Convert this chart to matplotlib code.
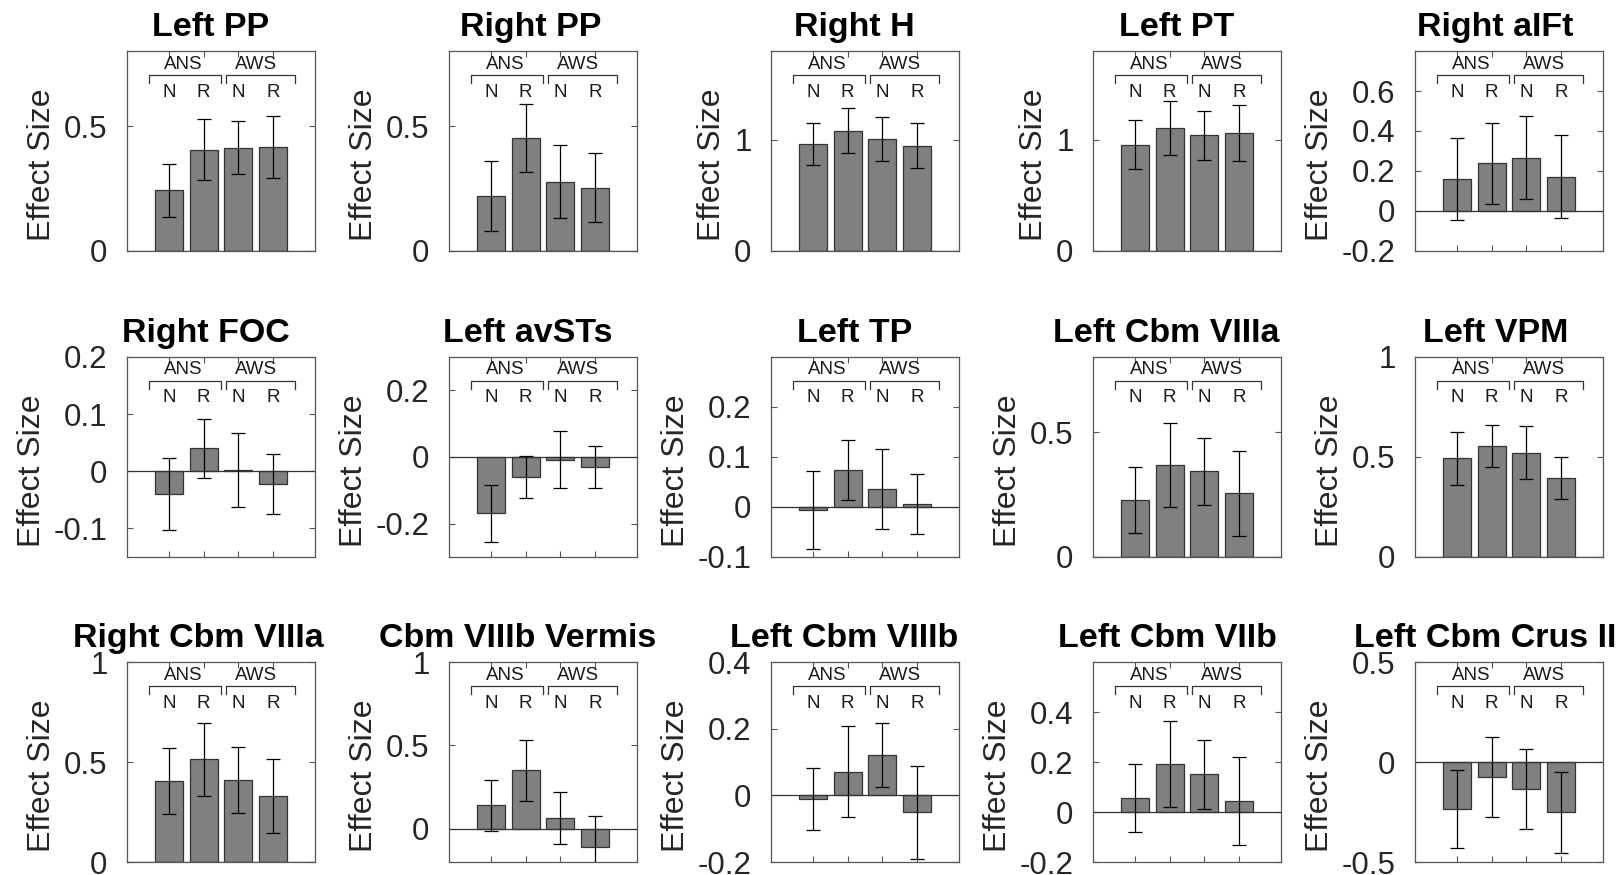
import matplotlib
matplotlib.use("Agg")
import matplotlib.pyplot as plt
import matplotlib.transforms as mtransforms

plt.rcParams['font.family'] = ['Liberation Sans', 'DejaVu Sans']
plt.rcParams['axes.unicode_minus'] = False

titles = ["Left PP", "Right PP", "Right H", "Left PT", "Right aIFt",
          "Right FOC", "Left avSTs", "Left TP", "Left Cbm VIIIa", "Left VPM",
          "Right Cbm VIIIa", "Cbm VIIIb Vermis", "Left Cbm VIIIb", "Left Cbm VIIb", "Left Cbm Crus II"]

bar_labels = ["N", "R", "N", "R"]
group_labels = ["ANS", "AWS"]

means_row1 = [[0.243, 0.406, 0.414, 0.417],
              [0.221, 0.451, 0.278, 0.254],
              [0.964, 1.084, 1.006, 0.949],
              [0.958, 1.108, 1.042, 1.060],
              [0.158, 0.238, 0.267, 0.172]]
errs_row1 = [[0.106, 0.122, 0.105, 0.124],
             [0.140, 0.136, 0.145, 0.138],
             [0.190, 0.200, 0.197, 0.200],
             [0.218, 0.245, 0.220, 0.250],
             [0.205, 0.204, 0.209, 0.207]]

means_row2 = [[-0.040, 0.040, 0.002, -0.0225],
              [-0.169, -0.059, -0.008, -0.031],
              [-0.006, 0.074, 0.037, 0.007],
              [0.229, 0.369, 0.343, 0.255],
              [0.493, 0.553, 0.522, 0.395]]
errs_row2 = [[0.063, 0.052, 0.065, 0.053],
             [0.085, 0.063, 0.085, 0.063],
             [0.078, 0.060, 0.080, 0.060],
             [0.131, 0.167, 0.134, 0.171],
             [0.132, 0.105, 0.133, 0.104]]

means_row3 = [[0.407, 0.513, 0.410, 0.332],
              [0.142, 0.350, 0.062, -0.108],
              [-0.012, 0.071, 0.121, -0.051],
              [0.056, 0.192, 0.151, 0.043],
              [-0.235, -0.073, -0.135, -0.252]]
errs_row3 = [[0.165, 0.183, 0.167, 0.185],
             [0.153, 0.181, 0.156, 0.186],
             [0.093, 0.137, 0.095, 0.139],
             [0.135, 0.172, 0.138, 0.176],
             [0.196, 0.200, 0.200, 0.203]]

ylims = [(0, 0.8), (0, 0.8), (0, 1.8), (0, 1.8), (-0.2, 0.8),
         (-0.15, 0.2), (-0.3, 0.3), (-0.1, 0.3), (0, 0.8), (0, 1.0),
         (0, 1.0), (-0.2, 1.0), (-0.2, 0.4), (-0.2, 0.6), (-0.5, 0.5)]
yticks = [[0, 0.5], [0, 0.5], [0, 1], [0, 1], [-0.2, 0, 0.2, 0.4, 0.6],
          [-0.1, 0, 0.1, 0.2], [-0.2, 0, 0.2], [-0.1, 0, 0.1, 0.2], [0, 0.5], [0, 0.5, 1],
          [0, 0.5, 1], [0, 0.5, 1], [-0.2, 0, 0.2, 0.4], [-0.2, 0, 0.2, 0.4], [-0.5, 0, 0.5]]

means = means_row1 + means_row2 + means_row3
errs = errs_row1 + errs_row2 + errs_row3

W, H = 1622, 875
fig = plt.figure(figsize=(W / 100, H / 100), dpi=100)

col_left = [127, 449, 771, 1093, 1415]
row_bottom = [251, 557, 862]
ax_w, ax_h = 188, 200

spine_col = '#555555'
xpos = [1, 2, 3, 4]
axes = []

for i in range(15):
    r, c = divmod(i, 5)
    ax = fig.add_axes([col_left[c] / W, 1 - row_bottom[r] / H, ax_w / W, ax_h / H])
    axes.append(ax)
    ax.bar(xpos, means[i], width=0.8, color='#808080', edgecolor='#333333', linewidth=0.9, zorder=2)
    ax.errorbar(xpos, means[i], yerr=errs[i], fmt='none', ecolor='black', elinewidth=0.9,
                capsize=5, capthick=0.9, zorder=3)
    ax.axhline(0, color='#333333', linewidth=0.9, zorder=2.5)
    ax.set_xlim(-0.2, 5.2)
    ax.set_ylim(*ylims[i])
    ax.set_xticks(xpos)
    ax.set_xticklabels([])
    ax.set_yticks(yticks[i])
    ax.set_yticklabels(['%g' % v for v in yticks[i]])
    ax.tick_params(direction='in', length=4, width=0.8, colors=spine_col,
                   top=True, right=True, labelsize=22.5, labelcolor='#262626', pad=14)
    for s in ax.spines.values():
        s.set_color(spine_col)
        s.set_linewidth(0.9)
    ax.set_ylabel("Effect Size", fontsize=23, color='#262626', labelpad=5)
    ax.set_title(titles[i], fontsize=24.5, fontweight='bold', pad=11)

    tr = mtransforms.blended_transform_factory(ax.transData, ax.transAxes)
    for (x0, x1, xc, lab) in [(0.43, 2.49, 1.43, group_labels[0]), (2.65, 4.62, 3.5, group_labels[1])]:
        ax.plot([x0, x0, x1, x1], [0.84, 0.88, 0.88, 0.84], color='#333333', linewidth=0.9,
                transform=tr, clip_on=False, zorder=4)
        ax.text(xc, 0.935, lab, transform=tr, ha='center', va='center', fontsize=13.5, color='#1a1a1a')
    for x, lab in zip(xpos, bar_labels):
        ax.text(x, 0.795, lab, transform=tr, ha='center', va='center', fontsize=13.5, color='#1a1a1a')

# shift centred titles / y-labels slightly along their text direction, as in the reference
fig.canvas.draw()
renderer = fig.canvas.get_renderer()
for ax in axes:
    tb = ax.title.get_window_extent(renderer)
    ax.title.set_x(0.5 - 0.09 * tb.width / ax_w)
    lb = ax.yaxis.label.get_window_extent(renderer)
    ax.yaxis.label.set_y(0.5 - 0.09 * lb.height / ax_h)

fig.savefig("out.png", dpi=100)
